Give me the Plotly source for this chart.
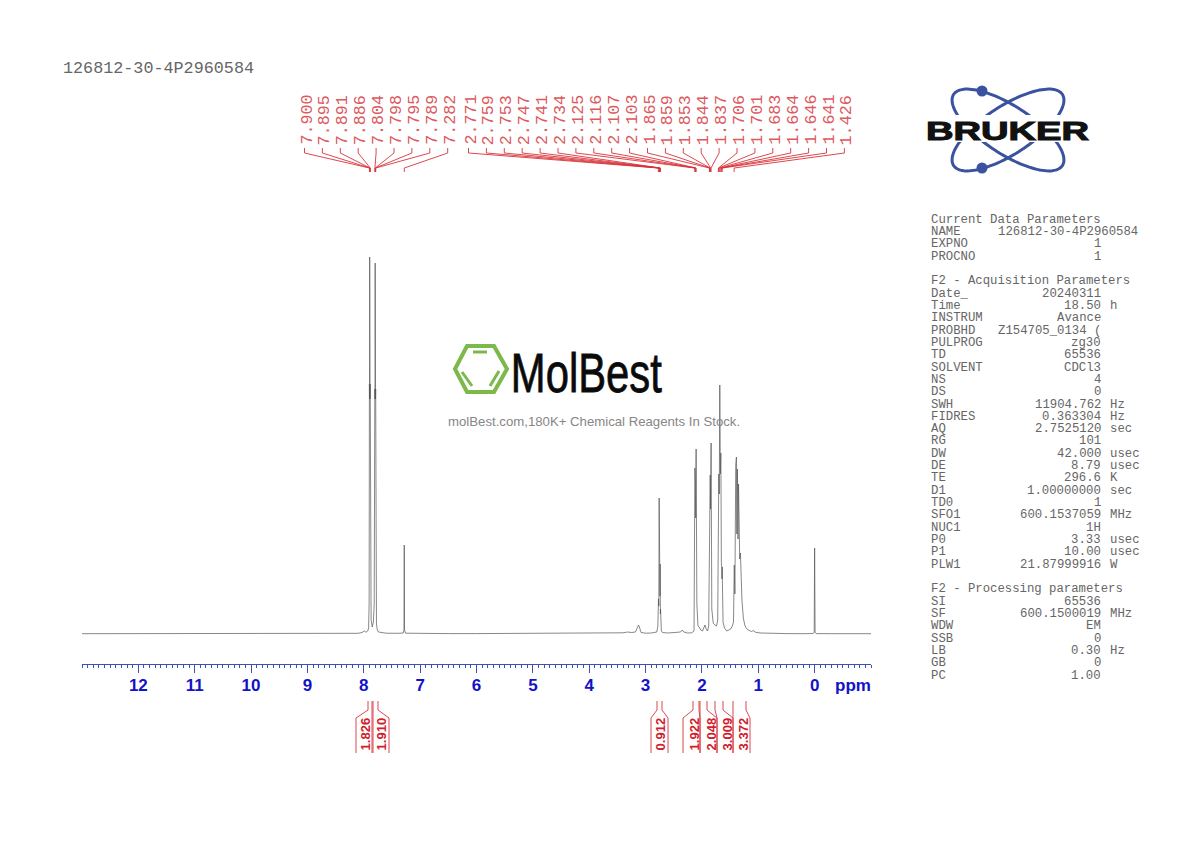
"""
1H NMR spectrum page (Bruker TopSpin style plot) with the MolBest overlay.
"""

import math
import plotly.graph_objects as go

TITLE = '126812-30-4P2960584'

# spectrum trace (ppm, height above baseline)
spec_ppm = [13.0, 12.0, 11.0, 10.0, 9.0, 8.5, 8.2, 8.1, 8.03, 7.99, 7.96, 7.93, 7.915,
            7.905, 7.900, 7.898, 7.895, 7.893, 7.891, 7.889, 7.886, 7.87, 7.85,
            7.83, 7.815, 7.804, 7.801, 7.798, 7.7965, 7.795, 7.792, 7.789, 7.775, 7.76, 7.74,
            7.70, 7.6, 7.4, 7.30, 7.287, 7.282, 7.277, 7.26, 7.0, 6.5, 6.0, 5.5, 5.0, 4.5,
            4.0, 3.6, 3.4, 3.32, 3.25, 3.18, 3.14, 3.125, 3.11, 3.08, 3.0, 2.9, 2.80, 2.782,
            2.771, 2.765, 2.759, 2.756, 2.753, 2.75, 2.747, 2.744, 2.741, 2.737, 2.734, 2.72, 2.70,
            2.6, 2.45, 2.38, 2.35, 2.32, 2.26, 2.18, 2.14, 2.125, 2.12, 2.116, 2.111,
            2.107, 2.105, 2.103, 2.09, 2.07, 2.05, 2.02, 1.99, 1.96, 1.945, 1.925, 1.90,
            1.88, 1.865, 1.862, 1.859, 1.856, 1.853, 1.848, 1.844, 1.84, 1.837, 1.825,
            1.80, 1.77, 1.74, 1.72, 1.706, 1.703, 1.701, 1.692, 1.683, 1.673, 1.664, 1.655,
            1.646, 1.644, 1.641, 1.625, 1.60, 1.56, 1.52, 1.49, 1.46, 1.44,
            1.426, 1.415, 1.40, 1.394, 1.388, 1.38, 1.37, 1.36, 1.35, 1.34, 1.33, 1.317,
            1.305, 1.29, 1.265, 1.24, 1.215, 1.18, 1.14, 1.115, 1.09, 1.04, 0.95, 0.8, 0.5,
            0.2, 0.03, 0.008, 0.0, -0.008, -0.03, -0.3, -1.0]
spec_int = [0.3, 0.3, 0.4, 0.3, 0.3, 0.4, 0.5, 0.7, 1.5, 3, 1.8, 3, 6,
            30, 250, 235, 377, 240, 345, 235, 250, 14, 7,
            12, 30, 245, 235, 371, 240, 330, 235, 245, 10, 4, 2,
            1.5, 0.8, 0.7, 1, 4, 89, 4, 0.8, 0.5, 0.4, 0.4, 0.5, 0.5, 0.5,
            0.6, 0.8, 1.2, 2, 1.5, 2, 8, 9, 7, 1.5, 0.8, 1, 2, 8,
            35, 28, 136, 45, 100, 40, 90, 38, 70, 20, 25, 3, 1.5,
            1, 1.2, 2, 4, 2, 1, 1.2, 3, 166, 120, 150, 116,
            145, 120, 185, 30, 8, 7, 4, 3, 7, 9, 5, 3,
            8, 120, 110, 150, 120, 159, 125, 170, 130, 191, 25,
            11, 9, 8, 14, 144, 120, 160, 140, 249, 160, 181, 70,
            67, 55, 67, 12, 6, 3, 4, 5, 8, 12,
            69, 40, 169, 110, 177, 100, 165, 95, 150, 107, 75, 81,
            45, 34, 16, 9, 6, 4, 3, 2.5, 3.5, 1.5, 1, 0.7, 0.4,
            0.3, 0.5, 1.5, 86, 1.5, 0.4, 0.3, 0.3]

# picked peaks, one rotated label each
peak_group_a = [7.900, 7.895, 7.891, 7.886, 7.804, 7.798, 7.795, 7.789, 7.282]
peak_group_b = [2.771, 2.759, 2.753, 2.747, 2.741, 2.734, 2.125, 2.116, 2.107, 2.103, 1.865,
                1.859, 1.853, 1.844, 1.837, 1.706, 1.701, 1.683, 1.664, 1.646, 1.641, 1.426]

# integrals
integral_values = ['1.826', '1.910', '0.912', '1.922', '2.048', '3.009', '3.372']
integral_text_x = [365, 381, 660, 694, 711, 727, 743]
# top left, bottom left, top right, bottom right of each bracket, page pixels
integral_brackets = [(368, 356, 372, 372), (373, 373, 378, 389), (657, 651, 662, 668),
                     (693, 683, 699, 700), (700, 700, 707, 717), (715, 717, 723, 733),
                     (733, 733, 746, 750)]

tick_vals = [12, 11, 10, 9, 8, 7, 6, 5, 4, 3, 2, 1, 0]
tick_text = ['12', '11', '10', '9', '8', '7', '6', '5', '4', '3', '2', '1', '0']

param_names = ['Current Data Parameters', 'NAME', 'EXPNO', 'PROCNO', '',
               'F2 - Acquisition Parameters', 'Date_', 'Time', 'INSTRUM', 'PROBHD', 'PULPROG',
               'TD', 'SOLVENT', 'NS', 'DS', 'SWH', 'FIDRES', 'AQ', 'RG', 'DW', 'DE', 'TE', 'D1',
               'TD0', 'SFO1', 'NUC1', 'P0', 'P1', 'PLW1', '',
               'F2 - Processing parameters', 'SI', 'SF', 'WDW', 'SSB', 'LB', 'GB', 'PC']
param_values = ['', TITLE, '1', '1', '',
                '', '20240311', '18.50', 'Avance', 'Z154705_0134 (', 'zg30',
                '65536', 'CDCl3', '4', '0', '11904.762', '0.363304', '2.7525120', '101', '42.000',
                '8.79', '296.6', '1.00000000',
                '1', '600.1537059', '1H', '3.33', '10.00', '21.87999916', '',
                '', '65536', '600.1500019', 'EM', '0', '0.30', '0', '1.00']
param_units = ['', '', '', '', '',
               '', '', 'h', '', '', '',
               '', '', '', '', 'Hz', 'Hz', 'sec', '', 'usec', 'usec', 'K', 'sec',
               '', 'MHz', '', 'usec', 'usec', 'W', '',
               '', '', 'MHz', '', '', 'Hz', '', '']

RED = '#dc5a60'
BLUE = '#1212c8'
AXIS_BLUE = '#3f4fb5'
GREY = '#666666'
MONO = 'Liberation Mono'
SANS = 'Liberation Sans'


def ppm_to_px(ppm):
    return 814.5 - ppm * 56.33


def orbit_path(angle):
    pts = []
    for i in range(0, 121):
        t = i / 120 * 2 * math.pi
        ex, ey = 65 * math.cos(t), 24 * math.sin(t)
        pts.append((1008 + ex * math.cos(angle) - ey * math.sin(angle),
                    130 + ex * math.sin(angle) + ey * math.cos(angle)))
    return 'M' + ' L'.join('%.1f,%.1f' % p for p in pts) + ' Z'


def page_text(text, x, y, size, color=GREY, family=MONO, xanchor='left', yanchor='middle', angle=0):
    return dict(text=text, x=x, y=y, xref='x2', yref='y2', showarrow=False, xanchor=xanchor,
                yanchor=yanchor, textangle=angle, borderpad=0,
                font=dict(family=family, size=size, color=color))


fig = go.Figure()

fig.add_trace(go.Scatter(x=spec_ppm, y=spec_int, mode='lines', hoverinfo='skip',
                         line=dict(color='#555555', width=0.7)))

annotations = [page_text(TITLE, 62, 68, 16.75)]
leader_x, leader_y = [], []

# peak labels and their leaders
label_xs = [306 + 17.9 * i for i in range(len(peak_group_a))]
label_xs += [470 + 17.9 * i for i in range(len(peak_group_b))]
for ppm, lx in zip(peak_group_a + peak_group_b, label_xs):
    annotations.append(page_text('%.3f' % ppm, lx + 0.5, 146, 16.7, color=RED, xanchor='center',
                                 yanchor='bottom', angle=-90))
    px = ppm_to_px(ppm)
    leader_x += [lx - 1.5, lx - 1.5, px, px, None]
    leader_y += [148, 153, 168, 172, None]

# integral brackets
for (tl, bl, tr, br), value, tx in zip(integral_brackets, integral_values, integral_text_x):
    leader_x += [tl, tl, bl, bl, None, tr, tr, br, br, None]
    leader_y += [701, 710, 718, 753, None, 701, 710, 718, 753, None]
    annotations.append(page_text('<b>%s</b>' % value, tx, 752, 13.1, color='#d0202a', family=SANS,
                                 xanchor='center', yanchor='bottom', angle=-90))

fig.add_trace(go.Scatter(x=leader_x, y=leader_y, mode='lines', xaxis='x2', yaxis='y2',
                         hoverinfo='skip', line=dict(color='#d8333a', width=0.9)))

# acquisition block, one annotation per column per line
for i, (name, value, unit) in enumerate(zip(param_names, param_values, param_units)):
    y = 219.7 + i * 12.32
    if name:
        annotations.append(page_text(name, 930, y, 12.3))
    if value:
        annotations.append(page_text(value, 1138.5 if value == TITLE else 1101.5, y, 12.3,
                                     xanchor='right'))
    if unit:
        annotations.append(page_text(unit, 1108.5, y, 12.3))

annotations.append(page_text('<b>ppm</b>', 853, 685, 17, color=BLUE, family=SANS, xanchor='center'))
annotations.append(page_text('<b>BRUKER</b>', 1007.5, 131, 25, color='#111111', family=SANS,
                             xanchor='center'))
annotations.append(page_text('MolBest', 586.5, 372.5, 55, color='#0a0a0a', family=SANS,
                             xanchor='center'))
annotations.append(page_text('molBest.com,180K+ Chemical Reagents In Stock.', 594, 421, 13.2,
                             color='#868686', family=SANS, xanchor='center'))

shapes = []
for a in (0.58, -0.58):
    shapes.append(dict(type='path', path=orbit_path(a), xref='x2', yref='y2',
                       line=dict(color='#3a529f', width=3)))
shapes.append(dict(type='rect', x0=924, x1=1092, y0=115, y1=142, xref='x2', yref='y2',
                   fillcolor='white', line_width=0))
for cy in (91, 168):
    shapes.append(dict(type='circle', x0=976.5, x1=987.5, y0=cy - 5.5, y1=cy + 5.5, xref='x2',
                       yref='y2', fillcolor='#3a529f', line_width=0))

# MolBest benzene mark
shapes.append(dict(type='path', xref='x2', yref='y2', line=dict(color='#7cb84a', width=4),
                   path='M455,369 L467,346 L494,346 L507,369 L494,392 L467,392 Z'))
for x0, y0, x1, y1 in [(473, 352, 487, 352), (462, 372, 472, 386), (499, 371, 490, 386)]:
    shapes.append(dict(type='line', x0=x0, y0=y0, x1=x1, y1=y1, xref='x2', yref='y2',
                       line=dict(color='#7cb84a', width=3)))

fig.update_layout(
    width=1190, height=842, margin=dict(l=0, r=0, t=0, b=0, pad=0, autoexpand=False),
    paper_bgcolor='white', plot_bgcolor='rgba(0,0,0,0)', showlegend=False,
    annotations=annotations, shapes=shapes,
    xaxis=dict(domain=[82 / 1190, 871 / 1190], range=[13, -1], anchor='y', showgrid=False,
               zeroline=False, showline=True, linecolor=AXIS_BLUE, linewidth=1,
               tickmode='array', tickvals=tick_vals, ticktext=tick_text, ticks='outside',
               ticklen=8, tickwidth=1, tickcolor=AXIS_BLUE, ticklabelstandoff=-2,
               tickfont=dict(family=SANS, size=17, color=BLUE, weight='bold'),
               minor=dict(tickmode='linear', tick0=0, dtick=0.1, ticks='outside', ticklen=3,
                          tickwidth=1, tickcolor=AXIS_BLUE, showgrid=False)),
    yaxis=dict(domain=[(842 - 664) / 842, (842 - 200) / 842], range=[-30, 434], visible=False),
    xaxis2=dict(domain=[0, 1], range=[0, 1190], anchor='y2', visible=False),
    yaxis2=dict(domain=[0, 1], range=[842, 0], anchor='x2', visible=False),
)

# the two logo words are stretched to their printed widths and thickened
stretch = """
document.body.style.margin = '0';
document.querySelectorAll('.annotation-text').forEach(function (t) {
    var widths = {'BRUKER': 163, 'MolBest': 151};
    var w = widths[t.textContent];
    if (w) {
        t.setAttribute('textLength', w);
        t.setAttribute('lengthAdjust', 'spacingAndGlyphs');
        t.style.stroke = '#111111';
        t.style.strokeWidth = t.textContent === 'BRUKER' ? '1' : '0.8';
    }
});
"""

fig.write_html("out.html", post_script=stretch, config=dict(displayModeBar=False))
